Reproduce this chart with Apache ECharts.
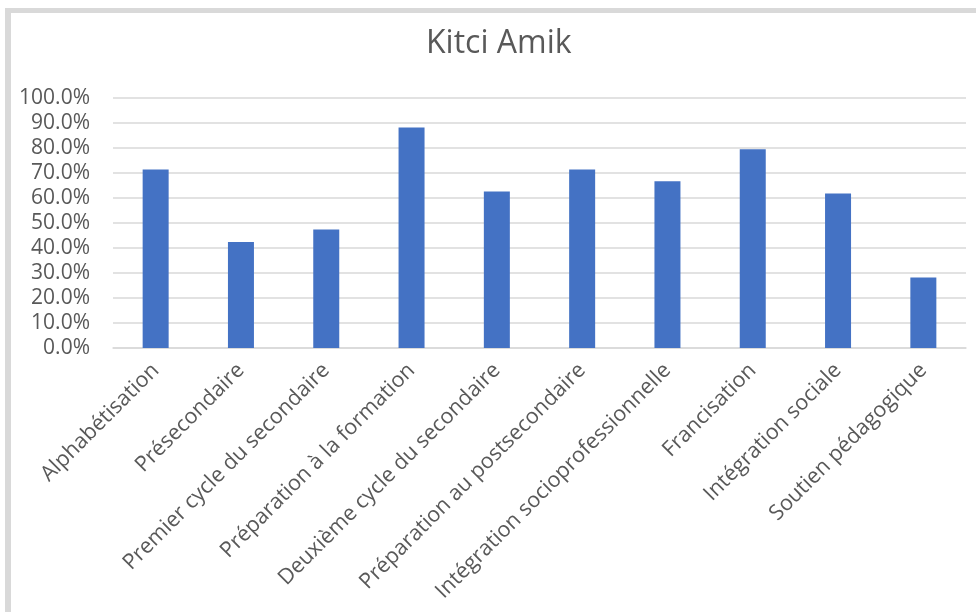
<!DOCTYPE html>
<html>
<head>
<meta charset="utf-8">
<script src="https://cdn.jsdelivr.net/npm/echarts@6/dist/echarts.min.js"></script>
<style>
html,body{margin:0;padding:0;background:#fff;}
#chart{width:976px;height:612px;}
</style>
</head>
<body>
<div id="chart"></div>
<script>
const categories = ["Alphabétisation","Présecondaire","Premier cycle du secondaire","Préparation à la formation","Deuxième cycle du secondaire","Préparation au postsecondaire","Intégration socioprofessionnelle","Francisation","Intégration sociale","Soutien pédagogique"];
const values = [71.4, 42.4, 47.4, 88.2, 62.6, 71.4, 66.7, 79.5, 61.8, 28.2];
const titleText = "Kitci Amik";

const chart = echarts.init(document.getElementById('chart'));
chart.setOption({
  animation: false,
  backgroundColor: '#ffffff',
  graphic: [
    {type:'rect', shape:{x:5,y:8,width:971,height:5}, style:{fill:'#d9d9d9'}, silent:true},
    {type:'rect', shape:{x:5,y:8,width:6,height:604}, style:{fill:'#d9d9d9'}, silent:true}
  ],
  title: {
    text: titleText,
    left: 421,
    top: 23,
    textStyle: {fontFamily:'Open Sans', fontSize:32, fontWeight:'normal', color:'#595959'}
  },
  grid: {left:113, right:10, top:98, bottom:264, containLabel:false},
  xAxis: {
    type:'category',
    data: categories,
    axisLine:{lineStyle:{color:'#d9d9d9', width:1.5}},
    axisTick:{show:false},
    axisLabel:{rotate:45, interval:0, margin:19, fontFamily:'Open Sans', fontSize:21.5, color:'#595959'}
  },
  yAxis: {
    type:'value',
    min:0, max:100, interval:10,
    axisLine:{show:false},
    axisTick:{show:false},
    splitLine:{lineStyle:{color:'#d9d9d9', width:1.5}},
    axisLabel:{margin:23, fontFamily:'Open Sans', fontSize:21, color:'#595959', formatter: v => v.toFixed(1) + '%'}
  },
  series: [{
    type:'bar',
    data: values,
    barWidth: 26,
    itemStyle:{color:'#4472C4'}
  }]
});
</script>
</body>
</html>
